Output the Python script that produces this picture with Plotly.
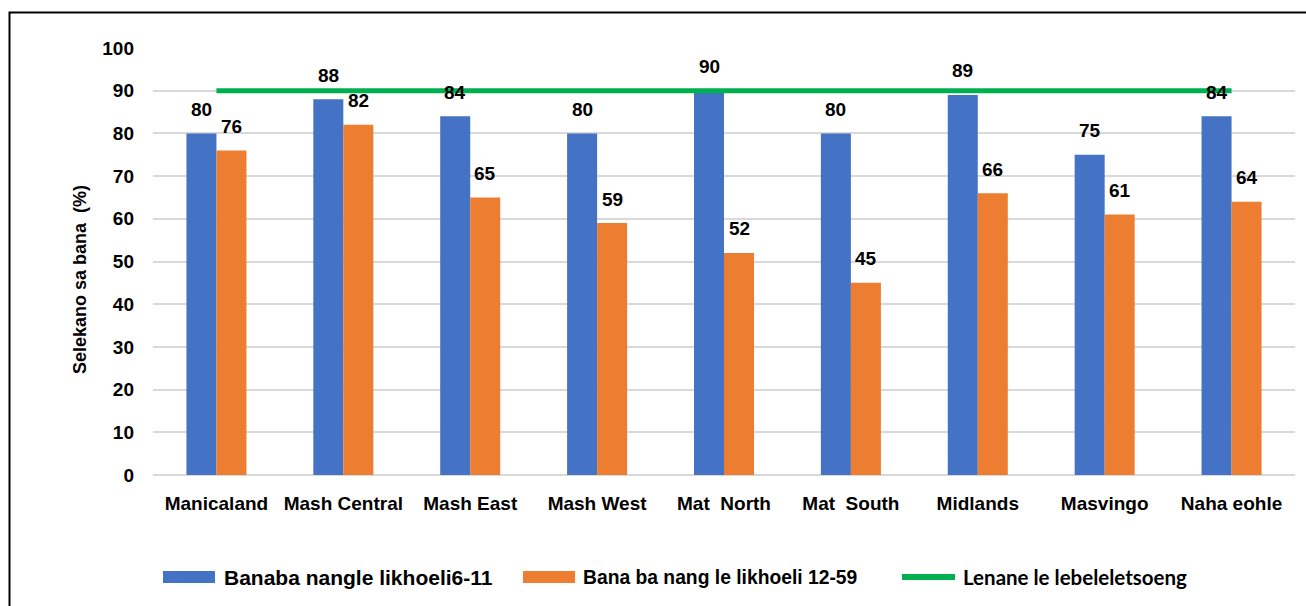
import plotly.graph_objects as go

# Regions and coverage values (%)
regions = ["Manicaland", "Mash Central", "Mash East", "Mash West", "Mat  North",
           "Mat  South", "Midlands", "Masvingo", "Naha eohle"]
infants_6_11 = [80, 88, 84, 80, 90, 80, 89, 75, 84]
children_12_59 = [76, 82, 65, 59, 52, 45, 66, 61, 64]
target = [90] * len(regions)

series_names = ["Banaba nangle likhoeli6-11", "Bana ba nang le likhoeli 12-59",
                "Lenane le lebeleletsoeng"]
y_title = "Selekano sa bana  (%)"
y_ticks = list(range(0, 101, 10))

BLUE = "#4472C4"
ORANGE = "#ED7D31"
GREEN = "#00B050"
ARIAL = "Liberation Sans, Arial, sans-serif"

W, H = 1306, 606
ML, MR, MT, MB = 153, 11, 48, 131
PW, PH = W - ML - MR, H - MT - MB


def px(x):
    return (x - ML) / PW


def py(y):
    return (H - MB - y) / PH


fig = go.Figure()
fig.add_trace(go.Bar(x=regions, y=infants_6_11, name=series_names[0],
                     marker=dict(color=BLUE, line=dict(width=0))))
fig.add_trace(go.Bar(x=regions, y=children_12_59, name=series_names[1],
                     marker=dict(color=ORANGE, line=dict(width=0))))
fig.add_trace(go.Scatter(x=regions, y=target, name=series_names[2], mode="lines",
                         line=dict(color=GREEN, width=5)))

annotations = []
# value labels above each bar
for series, shift in ((infants_6_11, -15), (children_12_59, 15)):
    for r, v in zip(regions, series):
        annotations.append(dict(x=r, y=v, xref="x", yref="y", text=str(v),
                                showarrow=False, xshift=shift, yshift=24,
                                yanchor="middle",
                                font=dict(family=ARIAL, size=19, color="black",
                                          weight="bold")))

# y axis title
annotations.append(dict(x=px(80), y=py(280), xref="paper", yref="paper",
                        text=y_title, textangle=-90, showarrow=False,
                        xanchor="center", yanchor="middle",
                        font=dict(family=ARIAL, size=18, color="black",
                                  weight="bold")))

# legend entries
shapes = []
legend_y = 577
shapes.append(dict(type="rect", xref="paper", yref="paper",
                   x0=px(163), x1=px(215), y0=py(583), y1=py(571),
                   fillcolor=BLUE, line=dict(width=0)))
shapes.append(dict(type="rect", xref="paper", yref="paper",
                   x0=px(523), x1=px(575), y0=py(583), y1=py(571),
                   fillcolor=ORANGE, line=dict(width=0)))
shapes.append(dict(type="line", xref="paper", yref="paper",
                   x0=px(902), x1=px(955), y0=py(legend_y), y1=py(legend_y),
                   line=dict(color=GREEN, width=6)))
for x0, name, fam, size in ((222, series_names[0], ARIAL, 21),
                            (581, series_names[1], ARIAL, 19.3),
                            (961, series_names[2], "Lato, Noto Sans, sans-serif", 20.5)):
    annotations.append(dict(x=px(x0), y=py(legend_y), xref="paper", yref="paper",
                            text=name, showarrow=False, xanchor="left",
                            yanchor="middle",
                            font=dict(family=fam, size=size, color="black",
                                      weight="bold")))

# outer frame
shapes.append(dict(type="rect", xref="paper", yref="paper",
                   x0=px(9.5), x1=px(1312), y0=py(612), y1=py(12.5),
                   line=dict(color="black", width=2), fillcolor="rgba(0,0,0,0)",
                   layer="above"))

fig.update_layout(
    width=W, height=H,
    margin=dict(l=ML, r=MR, t=MT, b=MB),
    paper_bgcolor="white", plot_bgcolor="white",
    barmode="group", bargap=0.527, bargroupgap=0,
    showlegend=False,
    annotations=annotations, shapes=shapes,
    xaxis=dict(type="category", range=[-0.5, len(regions) - 0.5],
               showgrid=False, showline=False, ticks="", zeroline=False,
               tickfont=dict(family=ARIAL, size=19, color="black", weight="bold"),
               ticklabelstandoff=15),
    yaxis=dict(range=[0, 100], tickvals=y_ticks, showgrid=True,
               gridcolor="#D9D9D9", gridwidth=1.5, zeroline=True,
               zerolinecolor="#D9D9D9", zerolinewidth=1.5, showline=False,
               ticks="",
               tickfont=dict(family=ARIAL, size=19, color="black", weight="bold"),
               ticklabelstandoff=18),
)

fig.write_html("out.html")
